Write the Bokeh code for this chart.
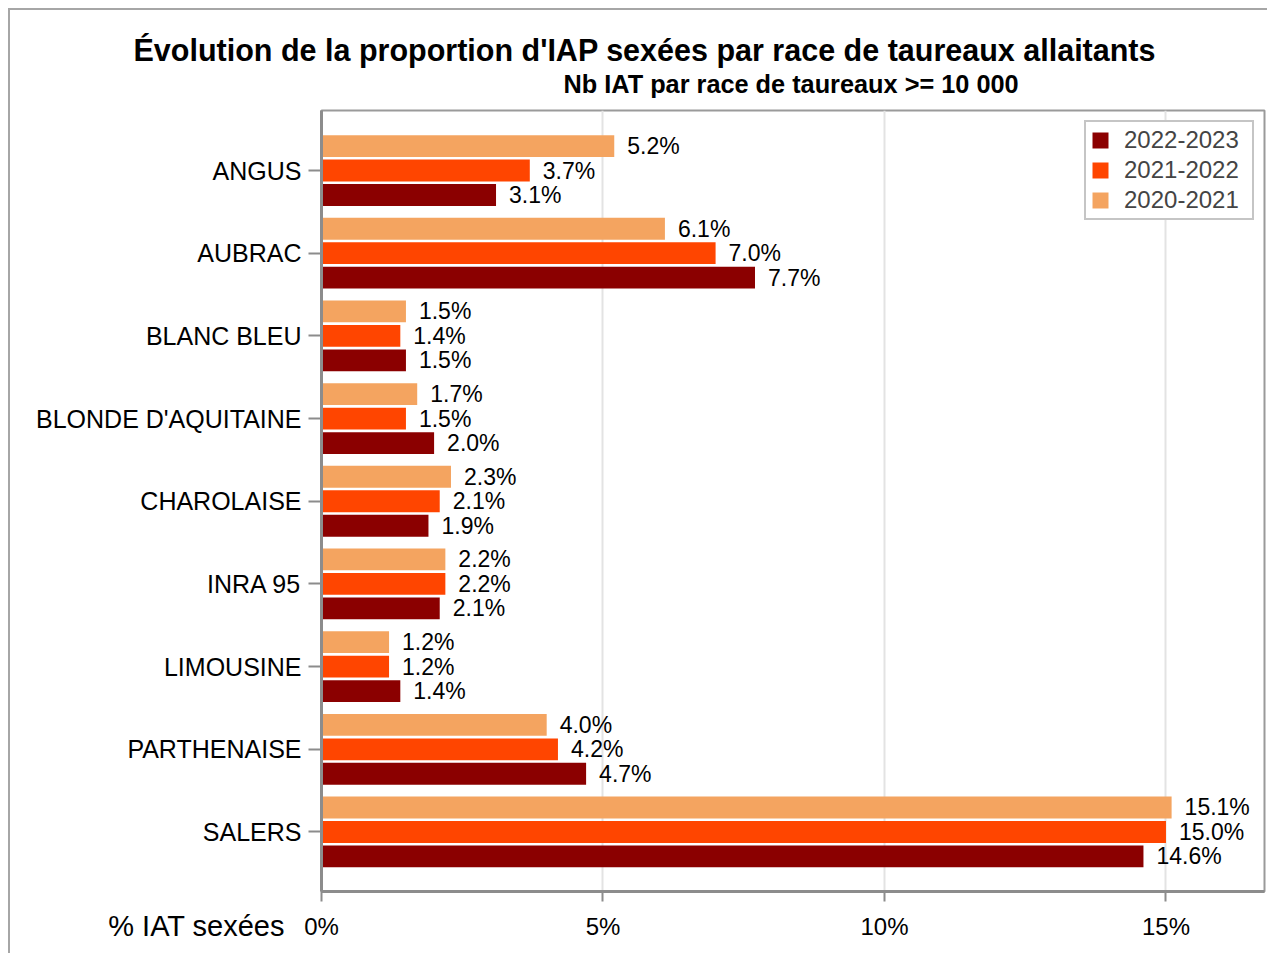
import numpy as np
from bokeh.plotting import figure
from bokeh.models import (ColumnDataSource, Range1d, FixedTicker, PrintfTickFormatter,
                          LabelSet, Legend, LegendItem, Title)
from bokeh.embed import file_html
from bokeh.resources import INLINE
from bokeh.core.properties import value

# ---------------- data ----------------
categories = ["ANGUS", "AUBRAC", "BLANC BLEU", "BLONDE D'AQUITAINE", "CHAROLAISE",
              "INRA 95", "LIMOUSINE", "PARTHENAISE", "SALERS"]
series = ["2022-2023", "2021-2022", "2020-2021"]
v_2022_2023 = [3.1, 7.7, 1.5, 2.0, 1.9, 2.1, 1.4, 4.7, 14.6]
v_2021_2022 = [3.7, 7.0, 1.4, 1.5, 2.1, 2.2, 1.2, 4.2, 15.0]
v_2020_2021 = [5.2, 6.1, 1.5, 1.7, 2.3, 2.2, 1.2, 4.0, 15.1]
x_ticks = [0, 5, 10, 15]
title_text = "Évolution de la proportion d'IAP sexées par race de taureaux allaitants"
subtitle_text = "Nb IAT par race de taureaux >= 10 000"
x_label_text = "% IAT sexées"

series_values = {"2022-2023": v_2022_2023, "2021-2022": v_2021_2022, "2020-2021": v_2020_2021}
colors = {"2022-2023": "#8B0000", "2021-2022": "#FF4500", "2020-2021": "#F4A460"}
offsets = {"2022-2023": -0.296, "2021-2022": 0.0, "2020-2021": 0.296}

FONT = "Liberation Sans"
n = len(categories)
base = np.arange(n)[::-1]  # first category at top

p = figure(width=1259, height=945, output_backend="svg", toolbar_location=None,
           x_range=Range1d(0, 16.75), y_range=Range1d(-0.72, 8.726),
           min_border_left=311, min_border_right=5, min_border_top=100, min_border_bottom=64)
p.styles = {"margin-left": "8px", "margin-top": "8px",
            "border-left": "2px solid #a6a6a6", "border-top": "2px solid #a6a6a6"}
p.background_fill_color = "white"
p.border_fill_color = "white"
p.outline_line_color = "#9a9a9a"
p.outline_line_width = 2

renderers = {}
for s in series:
    vals = series_values[s]
    src = ColumnDataSource(dict(
        y=base + offsets[s],
        v=vals,
        lab=[f"{v:.1f}%" for v in vals],
    ))
    r = p.hbar(y="y", left=0, right="v", height=0.264, source=src,
               fill_color=colors[s], line_color=None)
    renderers[s] = r
    ls = LabelSet(x="v", y="y", text="lab", source=src, x_offset=13,
                  text_baseline="middle", text_align="left",
                  text_font=value(FONT), text_font_size="23px", text_color="black")
    p.add_layout(ls)

# axes
p.xaxis.ticker = FixedTicker(ticks=x_ticks)
p.xaxis.formatter = PrintfTickFormatter(format="%d%%")
p.yaxis.ticker = FixedTicker(ticks=list(base))
p.yaxis.major_label_overrides = {int(b): c for b, c in zip(base, categories)}
for ax in (p.xaxis[0], p.yaxis[0]):
    ax.axis_line_color = "#8c8c8c"
    ax.axis_line_width = 3
    ax.major_tick_line_color = "#8c8c8c"
    ax.major_tick_line_width = 2
    ax.major_tick_in = 0
    ax.minor_tick_line_color = None
    ax.major_label_text_font = FONT
    ax.major_label_text_color = "black"
p.xaxis.major_label_text_font_size = "24px"
p.yaxis.major_label_text_font_size = "25px"
p.xaxis.major_tick_out = 10
p.xaxis.major_label_standoff = 11
p.yaxis.major_tick_out = 13
p.yaxis.major_label_standoff = 7

# x axis title, placed on the tick-label row, left of the axis
xa = p.xaxis[0]
xa.axis_label = x_label_text + "\u00a0" * 31
xa.axis_label_text_font = FONT
xa.axis_label_text_font_size = "29px"
xa.axis_label_text_font_style = "normal"
xa.axis_label_text_color = "black"
xa.axis_label_standoff = -33
try:
    xa.axis_label_align = "start"
except Exception:
    xa.axis_label_align = "left"

p.xgrid.ticker = FixedTicker(ticks=x_ticks)
p.xgrid.grid_line_color = "#e3e3e3"
p.xgrid.grid_line_width = 2
p.ygrid.visible = False

# titles (subtitle first = closest to the frame)
p.add_layout(Title(text=subtitle_text, align="left", offset=242, text_font=FONT, standoff=26,
                   text_font_size="25.3px", text_font_style="bold", text_color="black"), "above")
p.add_layout(Title(text=title_text, align="left", offset=-188, text_font=FONT, standoff=-24,
                   text_font_size="30.5px", text_font_style="bold", text_color="black"), "above")

legend = Legend(items=[LegendItem(label=s, renderers=[renderers[s]]) for s in series],
                location="top_right")
legend.label_text_font = FONT
legend.label_text_font_size = "24px"
legend.glyph_width = 20
legend.glyph_height = 20
legend.label_standoff = 14
legend.label_width = 124
legend.spacing = 2
legend.padding = 4
legend.margin = 10
legend.border_line_color = "#8c8c8c"
legend.border_line_width = 2
legend.background_fill_alpha = 1
p.add_layout(legend)

open("out.html", "w").write(file_html(p, INLINE))
